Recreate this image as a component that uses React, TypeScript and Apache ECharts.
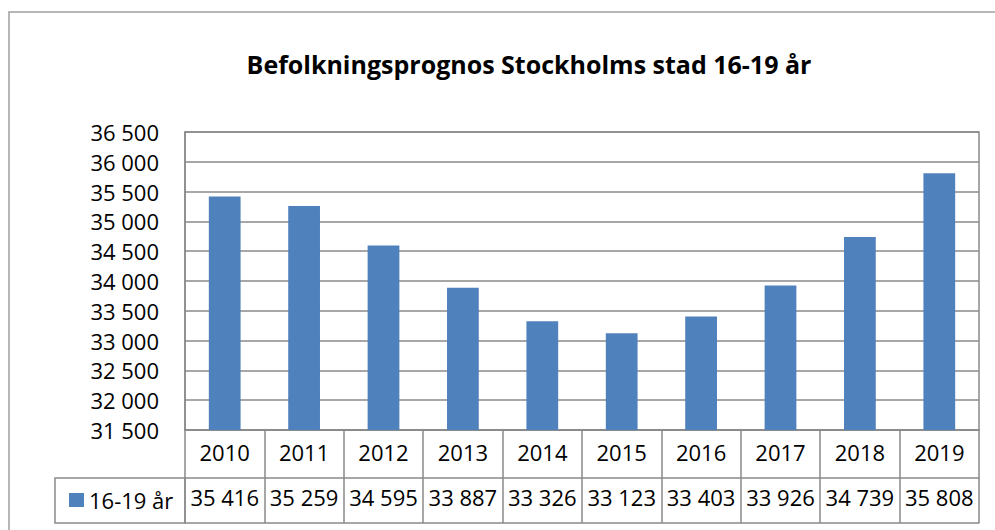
import React, { useEffect, useRef } from "react";
import * as echarts from "echarts";

const years = ["2010", "2011", "2012", "2013", "2014", "2015", "2016", "2017", "2018", "2019"];
const seriesName = "16-19 år";
const values = [35416, 35259, 34595, 33887, 33326, 33123, 33403, 33926, 34739, 35808];
const titleText = "Befolkningsprognos Stockholms stad 16-19 år";
const yMin = 31500;
const yMax = 36500;
const yStep = 500;

const fmt = (v: number) => {
  const th = Math.floor(v / 1000);
  const rest = String(v % 1000).padStart(3, "0");
  return `${th} ${rest}`;
};

const FONT = "Open Sans";
const GRAY = "#8a8a8a";
const BLUE = "#4F81BD";

export default function App() {
  const ref = useRef<HTMLDivElement>(null);
  useEffect(() => {
    if (!ref.current) return;
    const chart = echarts.init(ref.current, undefined, { renderer: "svg" });
    const gridLeft = 185;
    const gridTop = 132;
    const gridW = 794;
    const gridH = 298;
    chart.setOption({
      animation: false,
      backgroundColor: "#ffffff",
      textStyle: { fontFamily: FONT },
      title: {
        text: titleText,
        left: 524,
        textAlign: "center",
        top: 46,
        textStyle: { fontFamily: FONT, fontWeight: "bold", fontSize: 25, color: "#000" },
      },
      legend: {
        data: [seriesName],
        left: 64,
        top: 484,
        icon: "rect",
        itemWidth: 15,
        itemHeight: 14,
        itemGap: 6,
        textStyle: { fontFamily: FONT, fontSize: 22, color: "#000", padding: [0, 0, 0, 0] },
      },
      grid: {
        left: gridLeft,
        top: gridTop,
        width: gridW,
        height: gridH,
        show: true,
        borderColor: GRAY,
        borderWidth: 1.5,
        containLabel: false,
      },
      xAxis: [
        {
          type: "category",
          data: years,
          position: "bottom",
          axisLine: { show: true, lineStyle: { color: GRAY, width: 1.5 } },
          axisTick: { show: true, interval: 0, length: 93, lineStyle: { color: GRAY, width: 1.5 } },
          axisLabel: { fontFamily: FONT, fontSize: 22, color: "#000", margin: 11, interval: 0 },
        },
        {
          type: "category",
          data: values.map(fmt),
          position: "bottom",
          offset: 48,
          axisLine: { show: true, lineStyle: { color: GRAY, width: 1.5 } },
          axisTick: { show: false },
          axisLabel: { fontFamily: FONT, fontSize: 22, color: "#000", margin: 8, interval: 0 },
        },
        {
          type: "category",
          data: years,
          position: "bottom",
          offset: 93,
          axisLine: { show: true, lineStyle: { color: GRAY, width: 1.5 } },
          axisTick: { show: false },
          axisLabel: { show: false },
        },
      ],
      yAxis: {
        type: "value",
        min: yMin,
        max: yMax,
        interval: yStep,
        axisLine: { show: true, lineStyle: { color: GRAY, width: 1.5 } },
        axisTick: { show: false },
        splitLine: { show: true, lineStyle: { color: GRAY, width: 1.5 } },
        axisLabel: {
          fontFamily: FONT,
          fontSize: 22,
          color: "#000",
          margin: 26,
          formatter: (v: number) => fmt(v),
        },
      },
      series: [
        {
          name: seriesName,
          type: "bar",
          data: values,
          xAxisIndex: 0,
          barWidth: "40%",
          itemStyle: { color: BLUE },
        },
      ],
      graphic: [
        {
          type: "rect",
          shape: { x: 9, y: 12, width: 1000, height: 600 },
          style: { fill: "none", stroke: "#a0a0a0", lineWidth: 1.5 },
          silent: true,
        },
        {
          type: "rect",
          shape: { x: 55, y: gridTop + gridH + 48, width: gridLeft - 55, height: 45 },
          style: { fill: "none", stroke: GRAY, lineWidth: 1.5 },
          silent: true,
        },
      ],
    });
    return () => chart.dispose();
  }, []);
  return (
    <div
      ref={ref}
      style={{ position: "fixed", left: 0, top: 0, width: 995, height: 530 }}
    />
  );
}
